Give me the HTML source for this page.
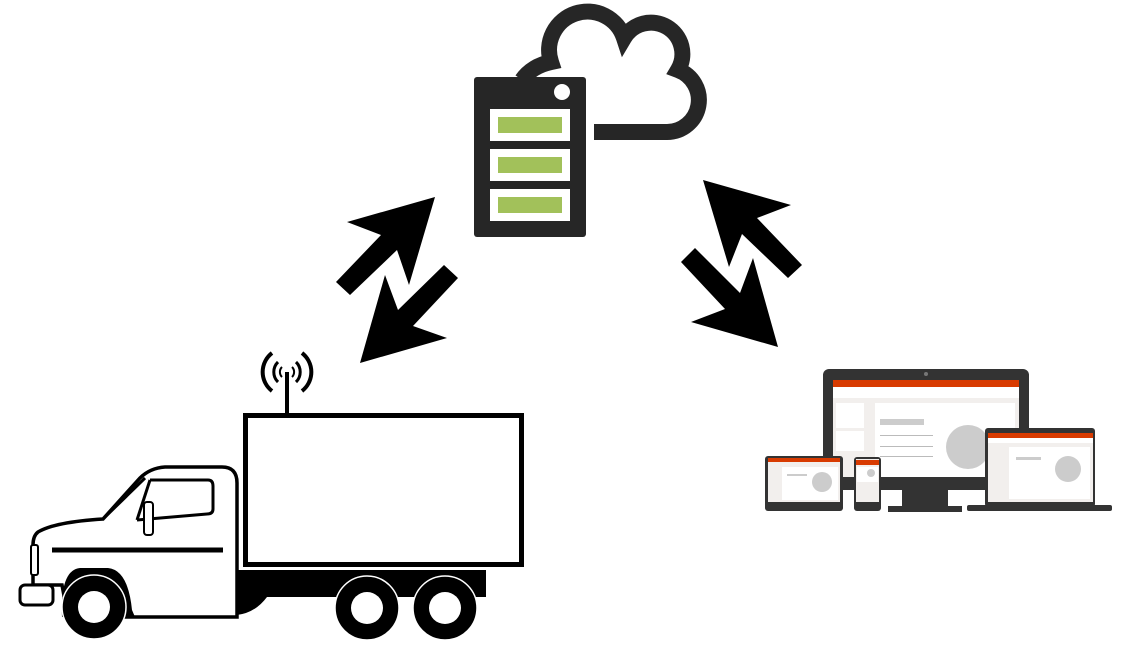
<!DOCTYPE html>
<html><head><meta charset="utf-8"><style>html,body{margin:0;padding:0;background:#fff}svg{display:block}</style></head>
<body>
<svg width="1133" height="649" viewBox="0 0 1133 649" xmlns="http://www.w3.org/2000/svg">
<!-- cloud -->
<path d="M594,132 H667 A32,32 0 0 0 678,70 A30,30 0 0 0 624,38 A38,38 0 0 0 551,62 Q532,66 522,80" fill="none" stroke="#262626" stroke-width="16"/>
<!-- server -->
<rect x="474" y="77" width="112" height="160" rx="3" fill="#262626"/>
<circle cx="562" cy="92" r="8" fill="#fff"/>
<rect x="490" y="109" width="80" height="32" fill="#fff"/>
<rect x="490" y="149" width="80" height="32" fill="#fff"/>
<rect x="490" y="189" width="80" height="32" fill="#fff"/>
<rect x="498" y="117" width="64" height="16" fill="#a2c15a"/>
<rect x="498" y="157" width="64" height="16" fill="#a2c15a"/>
<rect x="498" y="197" width="64" height="16" fill="#a2c15a"/>
<!-- arrows -->
<polygon points="435,197 347,222 381,235 336,282 350,295 397,250 409,285" fill="#000"/>
<polygon points="360,363 385,275 398,310 444,265 458,278 413,326 447,338" fill="#000"/>
<polygon points="703,180 791,205 757,218 802,265 788,278 742,234 729,267" fill="#000"/>
<polygon points="778,347 753,258 740,293 695,248 681,262 725,309 691,322" fill="#000"/>
<!-- truck -->
<g stroke="#000" fill="none">
<line x1="287" y1="372" x2="287" y2="413" stroke-width="4"/>
<path d="M282,367 A7,7 0 0 0 282,377 M292,367 A7,7 0 0 1 292,377" stroke-width="2"/>
<path d="M278,362 A14,14 0 0 0 278,382 M296,362 A14,14 0 0 1 296,382" stroke-width="3"/>
<path d="M272,353 A24,24 0 0 0 272,391 M302,353 A24,24 0 0 1 302,391" stroke-width="4"/>
<rect x="245.5" y="415.5" width="276" height="149" stroke-width="5" fill="#fff"/>
</g>
<path d="M237,570 H486 V597 H267 Q255,613 237,615 Z" fill="#000"/>
<path d="M237,483 Q237,467 222,467 H165 Q150,468 140,478 L103,519 Q55,522 38,532 Q33,536 33,545 V585 H62 L68,617 H237 Z" fill="#fff" stroke="#000" stroke-width="3.5"/>
<path d="M62,617 Q60,570 80,568 H108 Q128,570 132,610 L135,617 Z" fill="#000"/>
<rect x="20" y="585" width="33" height="20" rx="5" fill="#fff" stroke="#000" stroke-width="3"/>
<rect x="31" y="545" width="7" height="30" rx="2" fill="#fff" stroke="#000" stroke-width="2"/>
<path d="M103,519 L145,478" stroke="#000" stroke-width="3"/>
<path d="M150,480 H208 Q213,480 213,486 V509 Q213,514 207,514 L137,520" fill="none" stroke="#000" stroke-width="3"/>
<line x1="137" y1="520" x2="150" y2="480" stroke="#000" stroke-width="3"/>
<rect x="144" y="502" width="9" height="33" rx="3" fill="#fff" stroke="#000" stroke-width="2"/>
<line x1="52" y1="550" x2="223" y2="550" stroke="#000" stroke-width="5"/>
<g fill="#000" stroke="#fff" stroke-width="1.5">
<circle cx="94" cy="607" r="32"/><circle cx="367" cy="608" r="32"/><circle cx="445" cy="608" r="32"/>
</g>
<g fill="#fff"><circle cx="94" cy="607" r="16"/><circle cx="367" cy="608" r="16"/><circle cx="445" cy="608" r="16"/></g>
<!-- devices -->
<rect x="823" y="369" width="206" height="121" rx="6" fill="#333"/>
<circle cx="926" cy="374" r="2" fill="#777"/>
<rect x="833" y="380" width="186" height="97" fill="#f2efed"/>
<rect x="833" y="380" width="186" height="7" fill="#d83b01"/>
<rect x="833" y="387" width="186" height="11" fill="#fff"/>
<rect x="836" y="403" width="28" height="25" fill="#fff"/>
<rect x="836" y="431" width="28" height="20" fill="#fff"/>
<rect x="875" y="403" width="140" height="74" fill="#fff"/>
<rect x="880" y="419" width="44" height="6" fill="#ccc"/>
<rect x="880" y="435" width="53" height="1" fill="#bbb"/><rect x="880" y="446" width="53" height="1" fill="#bbb"/><rect x="880" y="456" width="53" height="1" fill="#bbb"/>
<circle cx="968" cy="447" r="22" fill="#ccc"/>
<rect x="902" y="490" width="46" height="18" fill="#333"/>
<rect x="888" y="506" width="74" height="6" fill="#333"/>
<!-- laptop -->
<rect x="985" y="428" width="110" height="79" rx="3" fill="#333"/>
<rect x="988" y="433" width="105" height="69" fill="#f2efed"/>
<rect x="988" y="433" width="105" height="5" fill="#d83b01"/>
<rect x="988" y="438" width="105" height="5" fill="#fff"/>
<rect x="1009" y="447" width="81" height="52" fill="#fff"/>
<rect x="1016" y="457" width="25" height="3" fill="#ccc"/>
<circle cx="1068" cy="469" r="13" fill="#ccc"/>
<rect x="967" y="505" width="145" height="6" rx="2" fill="#333"/>
<!-- tablet -->
<rect x="765" y="456" width="78" height="55" rx="3" fill="#333"/>
<rect x="768" y="458" width="72" height="44" fill="#f2efed"/>
<rect x="768" y="458" width="72" height="4" fill="#d83b01"/>
<rect x="782" y="467" width="56" height="33" fill="#fff"/>
<circle cx="822" cy="482" r="10" fill="#ccc"/>
<rect x="787" y="474" width="20" height="2" fill="#ccc"/>
<!-- phone -->
<rect x="854" y="457" width="27" height="54" rx="3" fill="#333"/>
<rect x="856" y="459" width="23" height="43" fill="#f2efed"/>
<rect x="856" y="460" width="23" height="5" fill="#d83b01"/>
<rect x="857" y="467" width="21" height="15" fill="#fff"/>
<circle cx="871" cy="473" r="4" fill="#ccc"/>
</svg>
</body></html>
